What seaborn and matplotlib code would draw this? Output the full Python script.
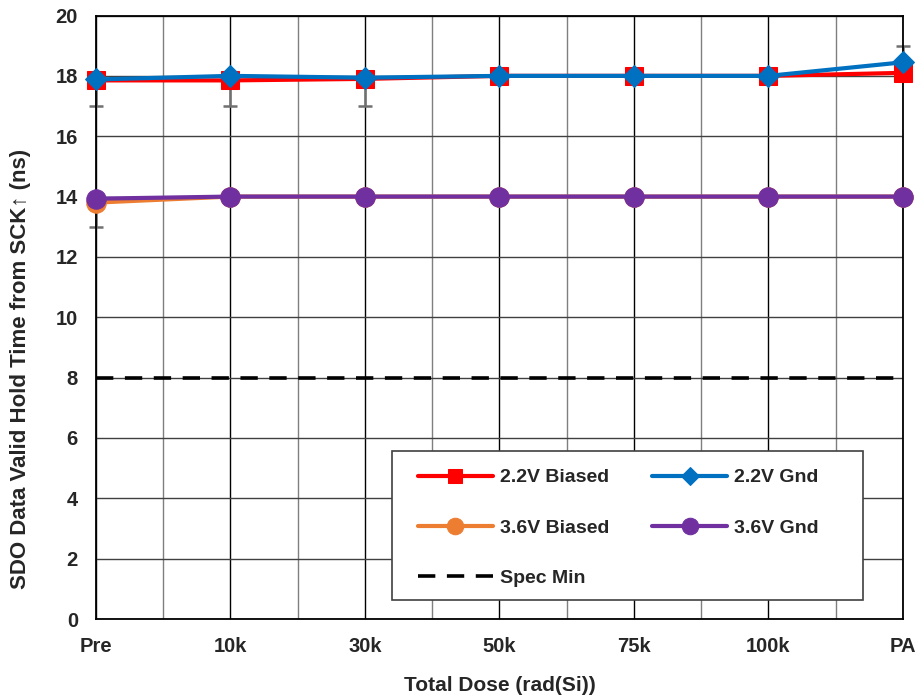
import matplotlib
matplotlib.use("Agg")
import matplotlib.pyplot as plt
import seaborn as sns
import pandas as pd
import numpy as np
from matplotlib.ticker import MultipleLocator
from matplotlib.patches import Rectangle

categories = ["Pre", "10k", "30k", "50k", "75k", "100k", "PA"]
v22_biased = [17.85, 17.85, 17.9, 18.0, 18.0, 18.0, 18.1]
v22_gnd = [17.88, 18.0, 17.94, 18.0, 18.0, 18.0, 18.45]
v36_biased = [13.8, 14.0, 14.0, 14.0, 14.0, 14.0, 14.0]
v36_gnd = [13.93, 14.0, 14.0, 14.0, 14.0, 14.0, 14.0]
spec_min = [8, 8, 8, 8, 8, 8, 8]

# error bar ranges (gray whiskers)
err_cats = ["Pre", "10k", "30k", "PA", "Pre"]
err_low = [17.0, 17.0, 17.0, 18.45, 13.0]
err_high = [17.85, 17.85, 17.9, 19.0, 13.8]

sns.set_style("white")
plt.rcParams['font.family'] = ['Liberation Sans', 'DejaVu Sans']
plt.rcParams['font.weight'] = 'bold'

fig = plt.figure(figsize=(9.2, 6.99), dpi=100)
ax = fig.add_axes([0.1043, 0.1144, 0.8772, 0.8634])

xpos = np.arange(len(categories))
idx = {c: i for i, c in enumerate(categories)}

# grid
ax.xaxis.set_major_locator(MultipleLocator(1))
ax.xaxis.set_minor_locator(MultipleLocator(0.5))
ax.yaxis.set_major_locator(MultipleLocator(2))
ax.grid(which='major', axis='x', color='black', linewidth=1.0, zorder=0)
ax.grid(which='minor', axis='x', color='#7f7f7f', linewidth=1.0, zorder=0)
ax.grid(which='major', axis='y', color='#404040', linewidth=1.0, zorder=0)
ax.set_axisbelow(True)

# error bars
ex = np.array([idx[c] for c in err_cats], dtype=float)
lo = np.array(err_low)
hi = np.array(err_high)
mid = (lo + hi) / 2
eb = ax.errorbar(ex, mid, yerr=[mid - lo, hi - mid], fmt='none', ecolor='#707070',
                 elinewidth=1.8, capsize=5, capthick=1.8, zorder=2)
for art in eb.lines[1] + eb.lines[2]:
    art.set_clip_on(False)

series = [
    ("2.2V Biased", v22_biased, '#ff0000', 's', 12.5),
    ("2.2V Gnd", v22_gnd, '#0070c0', 'D', 11),
    ("3.6V Biased", v36_biased, '#ed7d31', 'o', 14),
    ("3.6V Gnd", v36_gnd, '#7030a0', 'o', 14),
]
for name, vals, col, mk, ms in series:
    df = pd.DataFrame({"x": xpos, "y": vals})
    sns.lineplot(data=df, x="x", y="y", ax=ax, color=col, marker=mk,
                 markersize=ms, markeredgecolor=col, linewidth=3, zorder=3,
                 label=name)
    ax.lines[-1].set_clip_on(False)

df_spec = pd.DataFrame({"x": xpos, "y": spec_min})
sns.lineplot(data=df_spec, x="x", y="y", ax=ax, color='black', linewidth=2.6,
             dashes=False, zorder=3, label="Spec Min")
ax.lines[-1].set_dashes([4.8, 3.2])

ax.set_xlim(0, len(categories) - 1)
ax.set_ylim(0, 20)
ax.set_xticks(xpos)
ax.set_xticklabels(categories)
ax.tick_params(axis='both', length=0, labelsize=14.5, pad=13)
for lab in ax.get_xticklabels() + ax.get_yticklabels():
    lab.set_fontweight('bold')

for s in ax.spines.values():
    s.set_visible(True)
    s.set_color('black')
    s.set_linewidth(1.3)
    s.set_zorder(2.5)

ax.set_xlabel("Total Dose (rad(Si))", fontsize=15, fontweight='bold', labelpad=14)
ax.set_ylabel("SDO Data Valid Hold Time from SCK\u2191 (ns)", fontsize=16,
              fontweight='bold')
ax.yaxis.set_label_coords(-0.08, 0.415)

# legend frame drawn separately
frame = Rectangle((0.367, 0.0315), 0.583, 0.247, transform=ax.transAxes,
                  facecolor='white', edgecolor='#404040', linewidth=1.2, zorder=4)
ax.add_patch(frame)

h, l = ax.get_legend_handles_labels()
order = [l.index(n) for n in ["2.2V Biased", "3.6V Biased", "Spec Min", "2.2V Gnd", "3.6V Gnd"]]
leg = ax.legend([h[i] for i in order], [l[i] for i in order], ncol=2,
                loc='upper left', bbox_to_anchor=(0.399, 0.2488),
                frameon=False, prop={'size': 14, 'weight': 'bold'},
                handlelength=3.86, labelspacing=1.67, borderpad=0,
                columnspacing=2.2, handletextpad=0.36, borderaxespad=0,
                markerscale=0.85)
leg.set_zorder(5)

fig.savefig("out.png", dpi=100)
